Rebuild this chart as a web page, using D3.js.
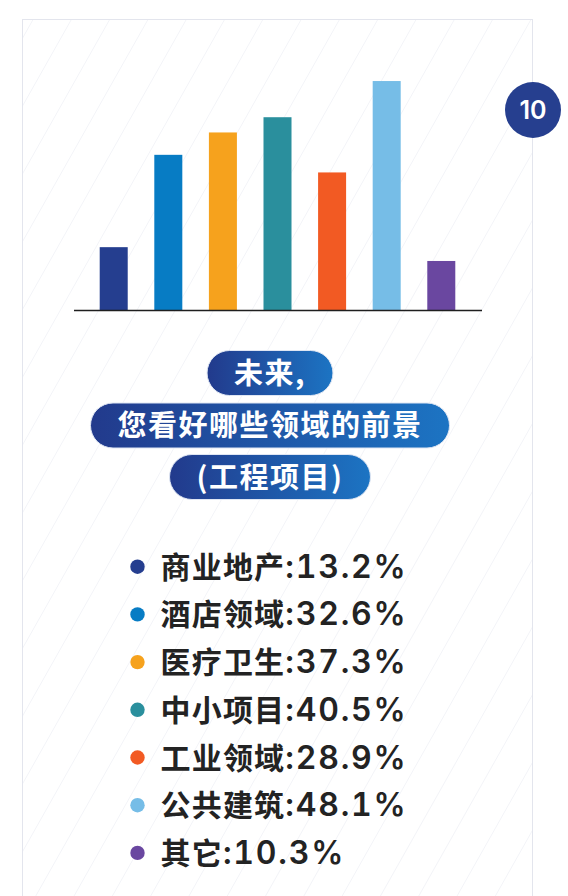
<!DOCTYPE html>
<html>
<head>
<meta charset="utf-8">
<script src="https://cdn.jsdelivr.net/npm/d3@7/dist/d3.min.js"></script>
<style>
  html, body { margin: 0; padding: 0; background: #ffffff; }
  svg { display: block; }
  .num { font-feature-settings: "tnum" 1; font-variant-numeric: tabular-nums; }
</style>
</head>
<body>
<svg id="chart" width="568" height="896"></svg>
<script>
// ---- data ----
const categories = ["商业地产", "酒店领域", "医疗卫生", "中小项目", "工业领域", "公共建筑", "其它"];
const values = [13.2, 32.6, 37.3, 40.5, 28.9, 48.1, 10.3];
const colors = ["#253e8f", "#077cc4", "#f6a21d", "#2a8f9d", "#f25a23", "#76bde7", "#6a47a0"];
const titleLines = ["未来,", "您看好哪些领域的前景", "(工程项目)"];
const badgeLabel = "10";

const W = 568, H = 896;
const svg = d3.select("#chart");
const CJK = "'Noto Sans CJK SC', 'Noto Sans', sans-serif";
const LATIN = "Inter, 'Noto Sans CJK SC', sans-serif";

// ---- card ----
const card = { x: 22.5, y: 19.5, w: 510, h: 900 };
const defs = svg.append("defs");
defs.append("clipPath").attr("id", "cardClip")
  .append("rect").attr("x", card.x).attr("y", card.y).attr("width", card.w).attr("height", card.h);

svg.append("rect").attr("x", card.x).attr("y", card.y).attr("width", card.w).attr("height", card.h)
  .attr("fill", "#ffffff");

// faint diagonal background lines
const bg = svg.append("g").attr("clip-path", "url(#cardClip)");
const slope = 0.565;
const lineStarts = d3.range(82.4 - 38.3 * 3, W + slope * H + 40, 38.3);
bg.selectAll("line").data(lineStarts).join("line")
  .attr("x1", d => d).attr("y1", 0)
  .attr("x2", d => d - slope * H).attr("y2", H)
  .attr("stroke", "#f3f4f8").attr("stroke-width", 1);

svg.append("rect").attr("x", card.x).attr("y", card.y).attr("width", card.w).attr("height", card.h)
  .attr("fill", "none").attr("stroke", "#e3e5ed").attr("stroke-width", 1);

// ---- bar chart ----
const x = d3.scaleBand().domain(categories).range([73.5, 481.5])
  .paddingInner(0.487).paddingOuter(0.48);
const y = d3.scaleLinear().domain([0, 50]).range([310, 72]);

svg.append("g").selectAll("rect").data(categories).join("rect")
  .attr("x", d => x(d))
  .attr("y", (d, i) => y(values[i]))
  .attr("width", x.bandwidth())
  .attr("height", (d, i) => y(0) - y(values[i]))
  .attr("fill", (d, i) => colors[i]);

const axis = svg.append("g").attr("transform", `translate(0,${y(0)})`)
  .call(d3.axisBottom(x).tickSize(0).tickSizeOuter(0).tickFormat(""));
axis.select(".domain").attr("stroke", "#1f1f1f").attr("stroke-width", 1.5);

// ---- badge ----
const badge = svg.append("g").attr("transform", "translate(533,110)");
badge.append("circle").attr("r", 28).attr("fill", "#263f8f");
badge.append("text").text(badgeLabel)
  .attr("text-anchor", "middle").attr("y", 9)
  .attr("fill", "#ffffff").attr("font-family", "Inter, 'Open Sans', sans-serif")
  .attr("font-weight", 600).attr("font-size", 25);

// ---- title pills ----
const grad = defs.append("linearGradient").attr("id", "pillGrad")
  .attr("x1", "0%").attr("x2", "100%").attr("y1", "0%").attr("y2", "0%");
grad.append("stop").attr("offset", "0%").attr("stop-color", "#223a8c");
grad.append("stop").attr("offset", "100%").attr("stop-color", "#1c74c3");

const pillCenters = [373, 425.5, 477];
const pillH = 45;
const titleCX = 270;
const pills = svg.append("g").selectAll("g").data(titleLines).join("g")
  .attr("transform", (d, i) => `translate(${titleCX},${pillCenters[i]})`);
pills.append("rect").attr("class", "pill");
pills.append("text").text(d => d)
  .attr("text-anchor", "middle").attr("y", 10.5)
  .attr("fill", "#ffffff").attr("font-family", CJK)
  .attr("font-weight", 700).attr("font-size", 29)
  .attr("letter-spacing", 1.5);
pills.each(function () {
  const g = d3.select(this);
  const bb = g.select("text").node().getBBox();
  const w = bb.width + 54;
  g.select("rect.pill")
    .attr("x", -w / 2).attr("y", -pillH / 2)
    .attr("width", w).attr("height", pillH)
    .attr("rx", pillH / 2).attr("ry", pillH / 2)
    .attr("fill", "url(#pillGrad)")
    .attr("stroke", "#dfe6f3").attr("stroke-width", 1);
});

// ---- legend ----
const legendTop = 566.7, legendStep = 47.7;
const legend = svg.append("g").selectAll("g").data(categories).join("g")
  .attr("transform", (d, i) => `translate(137.5,${legendTop + i * legendStep})`);
legend.append("circle").attr("r", 7.2).attr("fill", (d, i) => colors[i]);
const lt = legend.append("text")
  .attr("x", 23).attr("y", 11)
  .attr("fill", "#232323").attr("font-weight", 700);
lt.append("tspan").text(d => d)
  .attr("font-family", CJK).attr("font-size", 30).attr("letter-spacing", 1.2);
lt.append("tspan").attr("class", "num").text((d, i) => `:${values[i].toFixed(1)}%`)
  .attr("font-family", LATIN).attr("font-size", 32).attr("font-weight", 600)
  .attr("letter-spacing", 1.8);
</script>
</body>
</html>
